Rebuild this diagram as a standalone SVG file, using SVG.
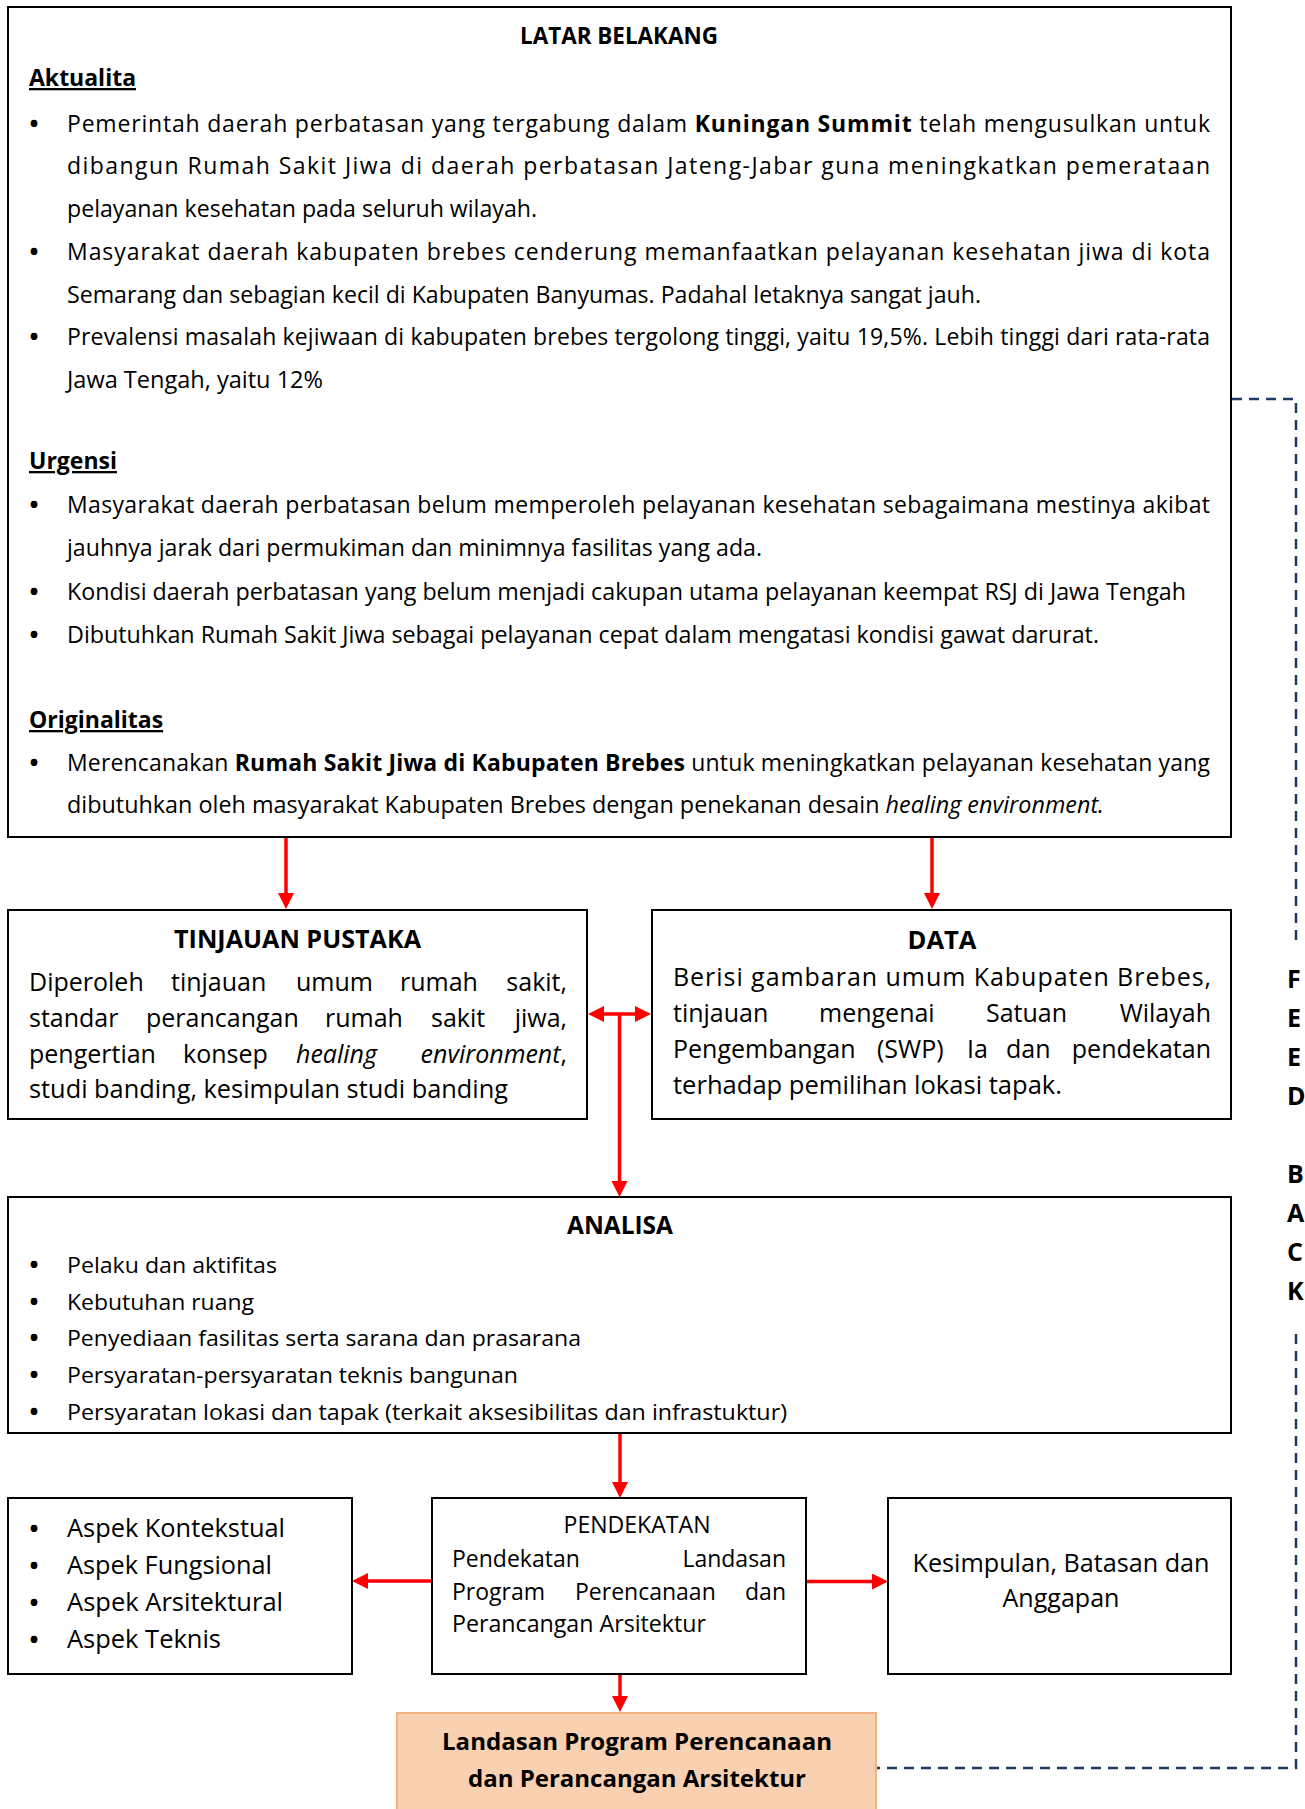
<svg xmlns="http://www.w3.org/2000/svg" width="1305" height="1809" viewBox="0 0 1305 1809">
<style>
text{font-family:"Open Sans","Noto Sans",sans-serif;fill:#000}
.box{fill:#fff;stroke:#000;stroke-width:2}
.m{font-size:23px}
.t{font-size:25px}
.a{font-size:21px}
.p{font-size:23px}
.k{font-size:26px}
.b{font-weight:bold}
.u{font-weight:bold;font-size:24px;text-anchor:middle}
.h{font-weight:bold;font-size:23px;text-decoration:underline}
.c{text-anchor:middle}
.e{text-anchor:end}
.fb{font-weight:bold;font-size:25px}
.arr{fill:none;stroke:#FF0000;stroke-width:3.5}
.dash{fill:none;stroke:#1F3864;stroke-width:2.5;stroke-dasharray:10 7}
</style>
<defs>
<marker id="ah" viewBox="0 0 16 16" refX="8" refY="8" markerWidth="16" markerHeight="16" markerUnits="userSpaceOnUse" orient="auto-start-reverse">
<path d="M0,0 L16,8 L0,16 z" fill="#FF0000"/>
</marker>
</defs>
<rect width="1305" height="1809" fill="#fff"/>

<g id="latar-belakang">
<rect class="box" x="8" y="7" width="1223" height="830"/>
<text class="b c" x="619" y="43.5" font-size="22.5" textLength="198" lengthAdjust="spacingAndGlyphs">LATAR BELAKANG</text>
<text class="h" x="29" y="86">Aktualita</text>
<text class="u" x="34" y="131.5">•</text>
<text class="m" x="67" y="131.5" textLength="1143" lengthAdjust="spacing">Pemerintah daerah perbatasan yang tergabung dalam <tspan class="b">Kuningan Summit</tspan> telah mengusulkan untuk</text>
<text class="m" x="67" y="174.3" textLength="1143" lengthAdjust="spacing">dibangun Rumah Sakit Jiwa di daerah perbatasan Jateng-Jabar guna meningkatkan pemerataan</text>
<text class="m" x="67" y="217" textLength="470" lengthAdjust="spacingAndGlyphs">pelayanan kesehatan pada seluruh wilayah.</text>
<text class="u" x="34" y="259.8">•</text>
<text class="m" x="67" y="259.8" textLength="1143" lengthAdjust="spacing">Masyarakat daerah kabupaten brebes cenderung memanfaatkan pelayanan kesehatan jiwa di kota</text>
<text class="m" x="67" y="302.5" textLength="914" lengthAdjust="spacingAndGlyphs">Semarang dan sebagian kecil di Kabupaten Banyumas. Padahal letaknya sangat jauh.</text>
<text class="u" x="34" y="345.3">•</text>
<text class="m" x="67" y="345.3" textLength="1143" lengthAdjust="spacing">Prevalensi masalah kejiwaan di kabupaten brebes tergolong tinggi, yaitu 19,5%. Lebih tinggi dari rata-rata</text>
<text class="m" x="67" y="388" textLength="256" lengthAdjust="spacingAndGlyphs">Jawa Tengah, yaitu 12%</text>
<text class="h" x="29" y="469">Urgensi</text>
<text class="u" x="34" y="513">•</text>
<text class="m" x="67" y="513" textLength="1143" lengthAdjust="spacing">Masyarakat daerah perbatasan belum memperoleh pelayanan kesehatan sebagaimana mestinya akibat</text>
<text class="m" x="67" y="556" textLength="695" lengthAdjust="spacingAndGlyphs">jauhnya jarak dari permukiman dan minimnya fasilitas yang ada.</text>
<text class="u" x="34" y="599.5">•</text>
<text class="m" x="67" y="599.5" textLength="1119" lengthAdjust="spacingAndGlyphs">Kondisi daerah perbatasan yang belum menjadi cakupan utama pelayanan keempat RSJ di Jawa Tengah</text>
<text class="u" x="34" y="642.5">•</text>
<text class="m" x="67" y="642.5" textLength="1032" lengthAdjust="spacingAndGlyphs">Dibutuhkan Rumah Sakit Jiwa sebagai pelayanan cepat dalam mengatasi kondisi gawat darurat.</text>
<text class="h" x="29" y="728">Originalitas</text>
<text class="u" x="34" y="771">•</text>
<text class="m" x="67" y="771" textLength="1143" lengthAdjust="spacing">Merencanakan <tspan class="b">Rumah Sakit Jiwa di Kabupaten Brebes</tspan> untuk meningkatkan pelayanan kesehatan yang</text>
<text class="m" x="67" y="813" textLength="1037" lengthAdjust="spacingAndGlyphs">dibutuhkan oleh masyarakat Kabupaten Brebes dengan penekanan desain <tspan font-style="italic">healing environment.</tspan></text>
</g>

<g id="tinjauan-pustaka">
<rect class="box" x="8" y="910" width="579" height="209"/>
<text class="b c" x="297.5" y="948" font-size="25" textLength="247" lengthAdjust="spacingAndGlyphs">TINJAUAN PUSTAKA</text>
<text class="t" y="991"><tspan x="29">Diperoleh</tspan><tspan x="171">tinjauan</tspan><tspan x="296">umum</tspan><tspan x="400">rumah</tspan></text>
<text class="t e" x="567" y="991">sakit,</text>
<text class="t" y="1026.5"><tspan x="29">standar</tspan><tspan x="146">perancangan</tspan><tspan x="325">rumah</tspan><tspan x="431">sakit</tspan></text>
<text class="t e" x="567" y="1026.5">jiwa,</text>
<text class="t" y="1062.5"><tspan x="29">pengertian</tspan><tspan x="183">konsep</tspan><tspan x="296" font-style="italic">healing</tspan></text>
<text class="t e" x="567" y="1062.5"><tspan font-style="italic">environment</tspan>,</text>
<text class="t" x="29" y="1097.5" textLength="479" lengthAdjust="spacingAndGlyphs">studi banding, kesimpulan studi banding</text>
</g>

<g id="data">
<rect class="box" x="652" y="910" width="579" height="209"/>
<text class="b c" x="942" y="949" font-size="25" textLength="69" lengthAdjust="spacingAndGlyphs">DATA</text>
<text class="t" x="673" y="985.5" textLength="538" lengthAdjust="spacing">Berisi gambaran umum Kabupaten Brebes,</text>
<text class="t" y="1021.5"><tspan x="673">tinjauan</tspan><tspan x="819">mengenai</tspan><tspan x="986">Satuan</tspan></text>
<text class="t e" x="1211" y="1021.5">Wilayah</text>
<text class="t" y="1057.5"><tspan x="673">Pengembangan</tspan><tspan x="877">(SWP)</tspan><tspan x="967">Ia</tspan><tspan x="1006">dan</tspan></text>
<text class="t e" x="1211" y="1057.5">pendekatan</text>
<text class="t" x="673" y="1093.5" textLength="389" lengthAdjust="spacingAndGlyphs">terhadap pemilihan lokasi tapak.</text>
</g>

<g id="analisa">
<rect class="box" x="8" y="1197" width="1223" height="236"/>
<text class="b c" x="620" y="1234" font-size="24.5" textLength="106" lengthAdjust="spacingAndGlyphs">ANALISA</text>
<text class="u" x="34" y="1273">•</text>
<text class="a" x="67" y="1273" textLength="210" lengthAdjust="spacingAndGlyphs">Pelaku dan aktifitas</text>
<text class="u" x="34" y="1310">•</text>
<text class="a" x="67" y="1310" textLength="187" lengthAdjust="spacingAndGlyphs">Kebutuhan ruang</text>
<text class="u" x="34" y="1346">•</text>
<text class="a" x="67" y="1346" textLength="514" lengthAdjust="spacingAndGlyphs">Penyediaan fasilitas serta sarana dan prasarana</text>
<text class="u" x="34" y="1383">•</text>
<text class="a" x="67" y="1383" textLength="451" lengthAdjust="spacingAndGlyphs">Persyaratan-persyaratan teknis bangunan</text>
<text class="u" x="34" y="1420">•</text>
<text class="a" x="67" y="1420" textLength="720" lengthAdjust="spacingAndGlyphs">Persyaratan lokasi dan tapak (terkait aksesibilitas dan infrastuktur)</text>
</g>

<g id="aspek">
<rect class="box" x="8" y="1498" width="344" height="176"/>
<text class="u" x="34" y="1537">•</text>
<text class="k" x="67" y="1537" textLength="218" lengthAdjust="spacingAndGlyphs">Aspek Kontekstual</text>
<text class="u" x="34" y="1574">•</text>
<text class="k" x="67" y="1574" textLength="205" lengthAdjust="spacingAndGlyphs">Aspek Fungsional</text>
<text class="u" x="34" y="1611">•</text>
<text class="k" x="67" y="1611" textLength="216" lengthAdjust="spacingAndGlyphs">Aspek Arsitektural</text>
<text class="u" x="34" y="1648">•</text>
<text class="k" x="67" y="1648" textLength="154" lengthAdjust="spacingAndGlyphs">Aspek Teknis</text>
</g>

<g id="pendekatan">
<rect class="box" x="432" y="1498" width="374" height="176"/>
<text class="p c" x="637" y="1533" textLength="147" lengthAdjust="spacingAndGlyphs">PENDEKATAN</text>
<text class="p" x="452" y="1567">Pendekatan</text>
<text class="p e" x="786" y="1567">Landasan</text>
<text class="p" y="1599.5"><tspan x="452">Program</tspan><tspan x="575">Perencanaan</tspan></text>
<text class="p e" x="786" y="1599.5">dan</text>
<text class="p" x="452" y="1632" textLength="254" lengthAdjust="spacingAndGlyphs">Perancangan Arsitektur</text>
</g>

<g id="kesimpulan">
<rect class="box" x="888" y="1498" width="343" height="176"/>
<text class="k c" x="1061" y="1572" textLength="297" lengthAdjust="spacingAndGlyphs">Kesimpulan, Batasan dan</text>
<text class="k c" x="1061" y="1607" textLength="117" lengthAdjust="spacingAndGlyphs">Anggapan</text>
</g>

<g id="landasan">
<rect x="397" y="1713" width="479" height="110" fill="#F9D0B0" stroke="#F4B183" stroke-width="2"/>
<text class="b c" x="637" y="1750" font-size="24" textLength="390" lengthAdjust="spacingAndGlyphs">Landasan Program Perencanaan</text>
<text class="b c" x="637" y="1787" font-size="24" textLength="338" lengthAdjust="spacingAndGlyphs">dan Perancangan Arsitektur</text>
</g>

<g id="feedback-label">
<text class="fb" x="1287" y="988">F</text>
<text class="fb" x="1287" y="1027">E</text>
<text class="fb" x="1287" y="1066">E</text>
<text class="fb" x="1287" y="1105">D</text>
<text class="fb" x="1287" y="1183">B</text>
<text class="fb" x="1287" y="1222">A</text>
<text class="fb" x="1287" y="1261">C</text>
<text class="fb" x="1287" y="1300">K</text>
</g>

<g id="connectors">
<path class="arr" d="M286,838 V901" marker-end="url(#ah)"/>
<path class="arr" d="M932,838 V901" marker-end="url(#ah)"/>
<path class="arr" d="M596,1014 H643" marker-start="url(#ah)" marker-end="url(#ah)"/>
<path class="arr" d="M619.5,1014 V1189" marker-end="url(#ah)"/>
<path class="arr" d="M620,1434 V1490" marker-end="url(#ah)"/>
<path class="arr" d="M431,1581 H360" marker-end="url(#ah)"/>
<path class="arr" d="M807,1581.5 H880" stroke-width="4.5" marker-end="url(#ah)"/>
<path class="arr" d="M620,1675 V1704" marker-end="url(#ah)"/>
<path class="dash" d="M1232,399 H1296 V945"/>
<path class="dash" d="M1296,1334 V1768 H877"/>
</g>
</svg>
